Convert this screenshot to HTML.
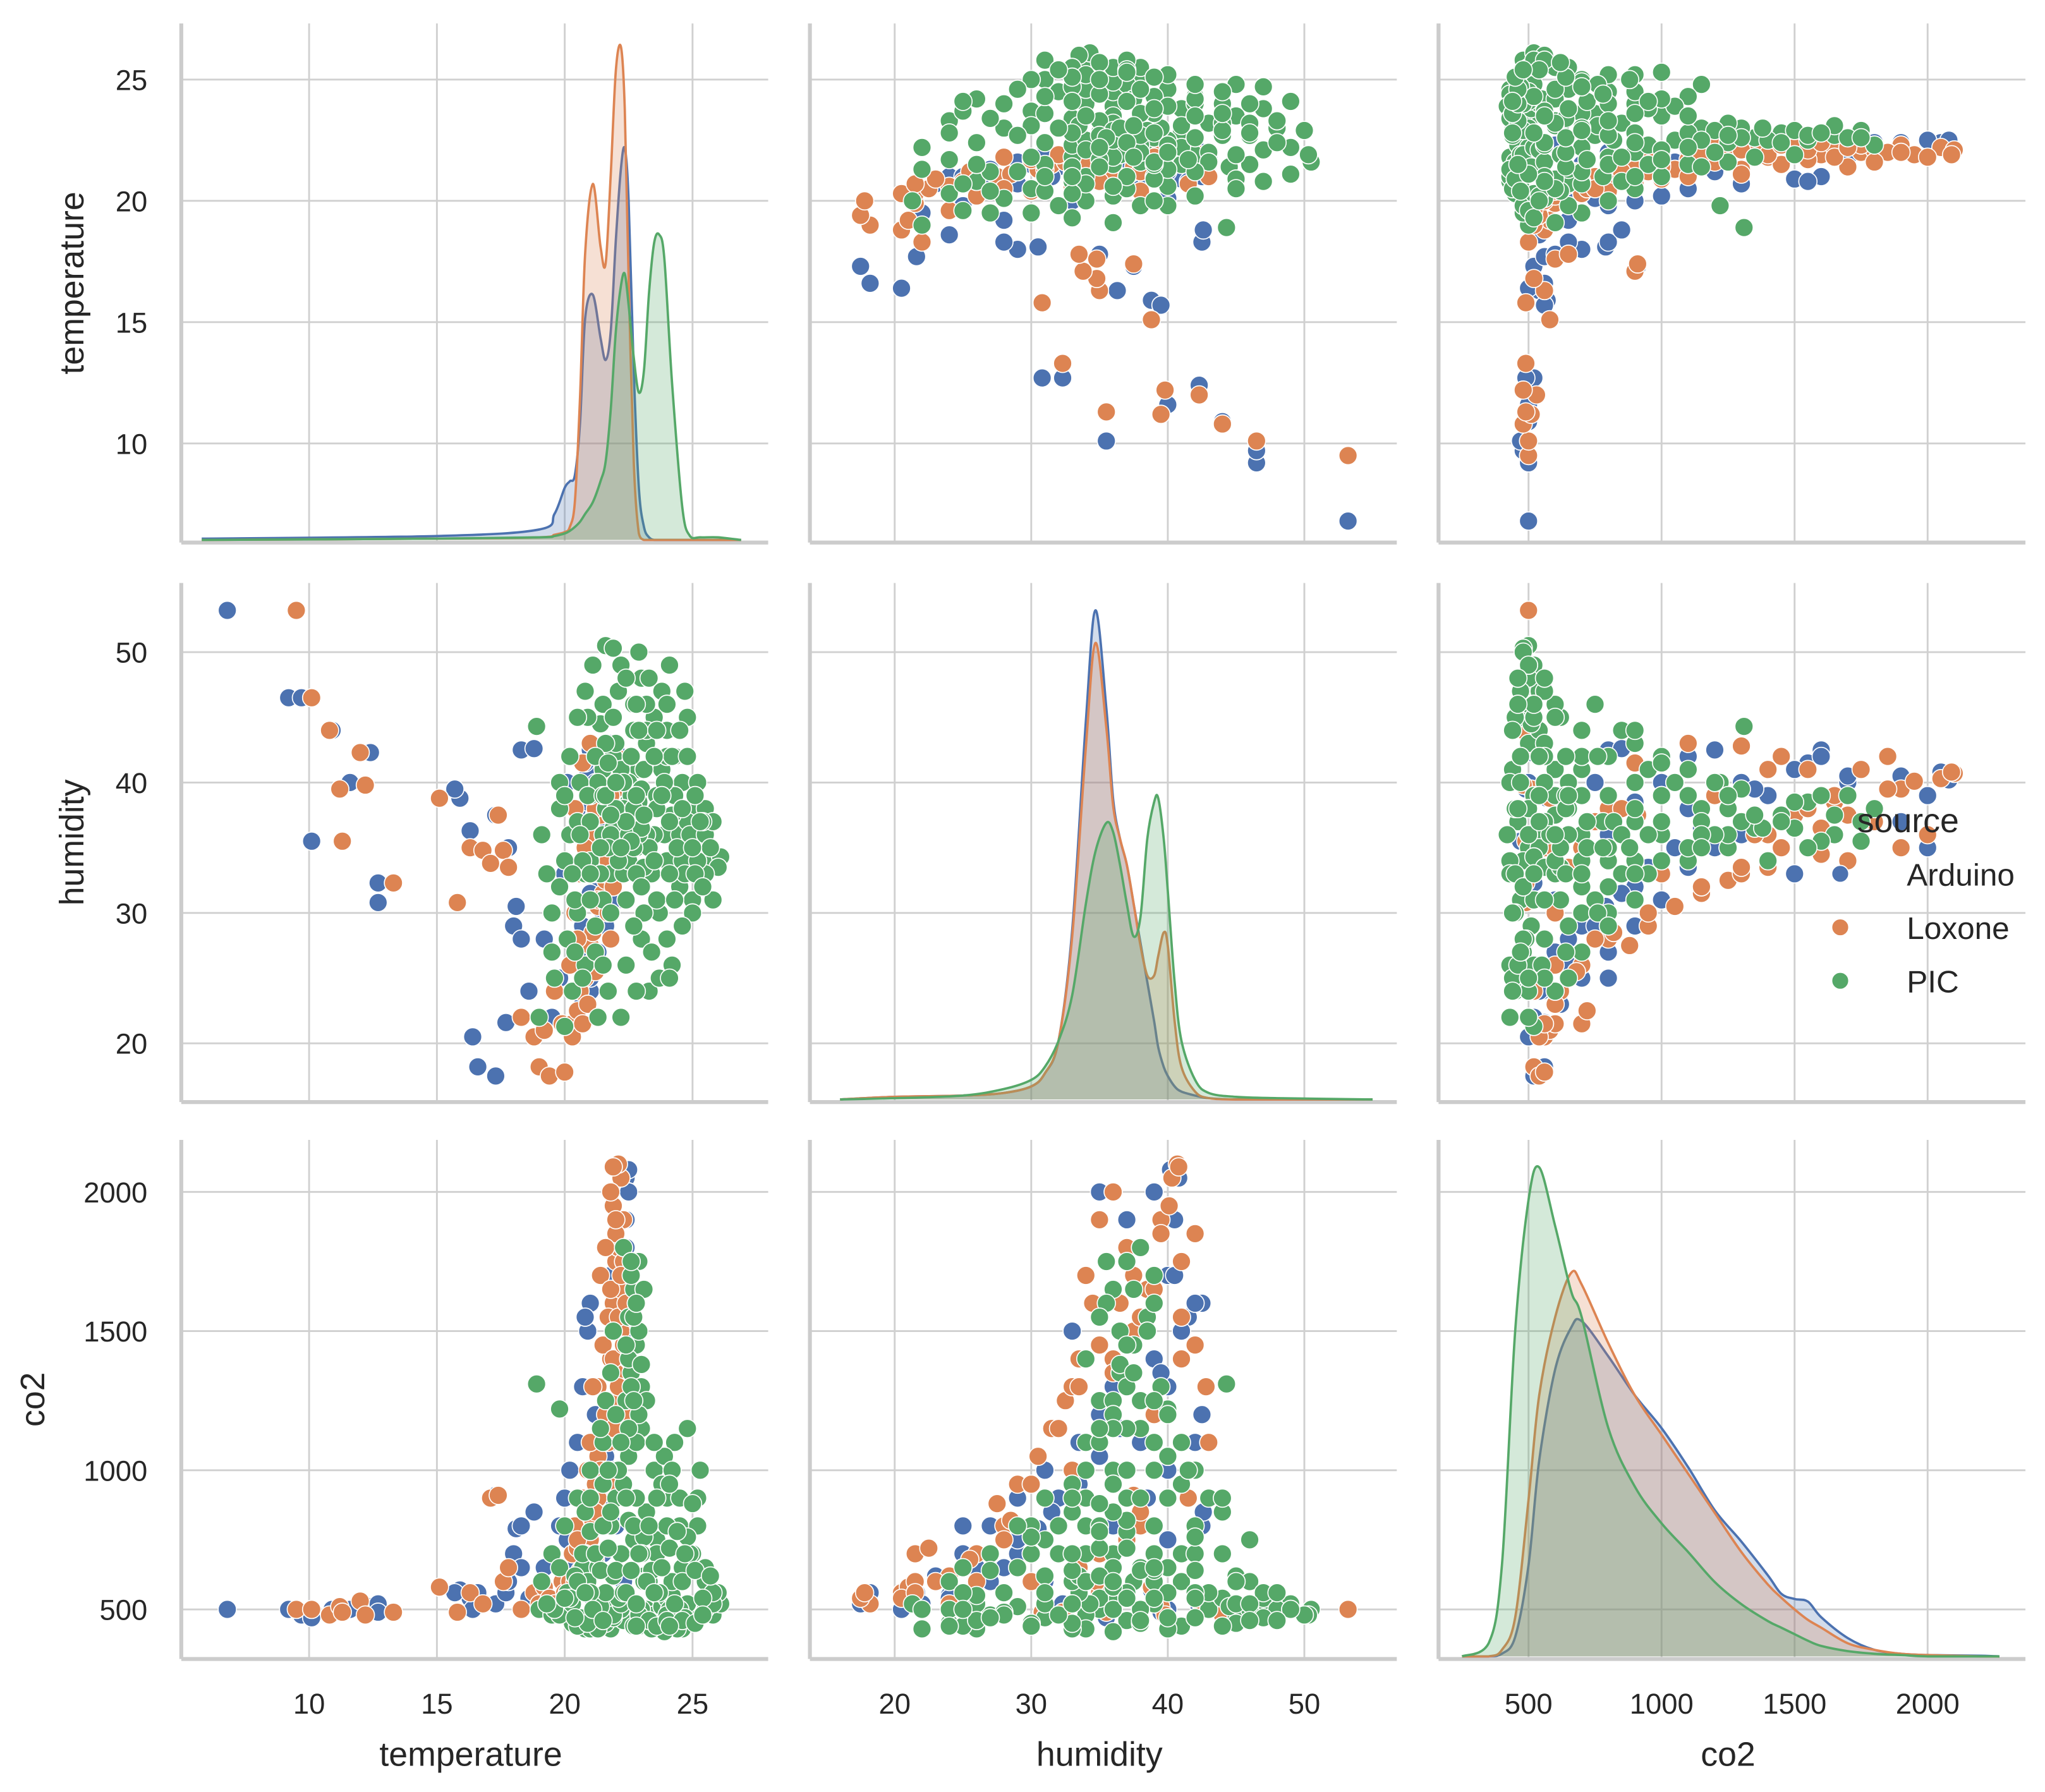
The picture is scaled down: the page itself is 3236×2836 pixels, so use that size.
<!DOCTYPE html>
<html><head><meta charset="utf-8">
<style>
html,body{margin:0;padding:0;background:#fff;}
svg{display:block;}
text{font-family:"Liberation Sans",sans-serif;fill:#262626;}
</style></head>
<body>
<svg id="chart" width="3236" height="2836" viewBox="0 0 1568 1374" preserveAspectRatio="none" xmlns="http://www.w3.org/2000/svg"></svg>
<script>
// ---- data ----
const variables = ["temperature","humidity","co2"];
const sources = ["Arduino","Loxone","PIC"];
const tempTicks = [10,15,20,25];
const humTicks = [20,30,40,50];
const co2Ticks = [500,1000,1500,2000];

// points: [temperature, humidity, co2]
const arduinoPoints = [
[6.8,53.2,500],[9.2,46.5,500],[9.7,46.5,480],[10.1,35.5,470],[10.9,44,500],[11.2,39.5,490],[11.6,40,500],[12.4,42.3,510],[12.7,32.3,520],[12.7,30.8,490],[15.9,38.8,570],[16.3,36.3,540],[16.4,20.5,500],[16.6,18.2,560],[17.3,17.5,520],[17.7,21.6,560],[17.3,37.5,910],[17.8,35,600],[18,29,700],[15.7,39.5,560],[18.1,30.5,790],[18.3,42.5,800],[18.8,42.6,850],
[19.2,28,650],[19.5,30,700],[19.8,25,800],[20,33,900],[20.2,36,1000],[20.5,38,1100],[20.7,40,1300],[20.9,41,1500],[21,42.5,1600],[21.2,35,1200],[21.4,32,900],[21.5,30,700],[21.7,37,1000],[21.9,39,1400],[22.1,40,1700],[22.3,40.5,1900],[22.4,40.8,2050],[22.5,39,2000],[22.2,36,1300],[22,34,800],[22.3,31,600],[20.5,27,600],[21,24,550],[19.5,22,520],[18.6,24,540],[18.3,28,650],[20.1,40,750],[21.8,43,1100],[22.4,38,1800],[22.2,33,1500],[20.8,41.5,1550],[22.5,40.2,2080],
[20.4,26,650],[20.7,29,750],[21.0,31.5,850],[21.3,33.5,950],[21.6,35,1050],[21.9,36.5,1150],[22.2,38,1250],[22.4,39.5,1350],[22.3,41,1500],[22.1,42,1600],[21.8,40.5,1700],[22.4,37,1900],[22.5,35,2000],[22.2,33.5,1100],[21.9,31,1000],[21.6,29,900],[21.3,27,800],[21.0,25,700],[20.7,23,620],[20.3,33,700],[20.6,36,800],[20.9,38.5,900],[21.2,40,1000],[21.5,42,1100],[22.0,42.5,1200]
];
const loxonePoints = [
[9.5,53.2,500],[10.1,46.5,500],[10.8,44,480],[11.2,39.5,510],[11.3,35.5,490],[12.0,42.3,530],[12.2,39.8,480],[13.3,32.3,490],[15.1,38.8,580],[15.8,30.8,490],[16.3,35,560],[16.8,34.8,520],[17.1,33.8,900],[17.4,37.5,910],[17.6,34.8,600],[18.3,22,500],[18.8,20.5,560],[19.2,21,580],[19,18.2,520],[19.4,17.5,540],[19.9,21.5,600],[17.8,33.5,650],
[20,17.8,560],[20.3,21.5,700],[20.5,22.5,720],[20.8,25,650],[21,27.5,880],[21.2,29,950],[21.3,30.5,1050],[21.5,31.5,1150],[21.6,32.5,1250],[21.8,33.5,1400],[21.9,34.5,1600],[22,35.5,1750],[22.1,37,1800],[22.2,38.5,1650],[22.3,39.5,1900],[22.2,40.3,2050],[22.1,40.7,2100],[21.9,40.1,1950],[21.7,41,1550],[21.5,42,1450],[21.3,42.8,1300],[21,43,1100],[20.7,41.5,900],[20.4,38,800],[20.9,36,1000],[21.1,33,1300],[21.4,37.5,1700],[22.4,36,1400],[22.5,39,1200],[20.2,26,600],[19.6,24,520],[21.8,28,800],[21.9,40.8,2090],[22,39.5,1850],
[20.6,24,620],[20.9,26,700],[21.1,28.5,820],[21.3,31,900],[21.5,33,1000],[21.7,34,1100],[21.9,35,1250],[22.0,36,1350],[22.2,37.5,1500],[22.1,38,1550],[21.8,39,1650],[22.3,41,1750],[22.0,42,1850],[21.9,41,1400],[21.6,40,1200],[21.4,39,1000],[21.2,38,850],[21.0,37,750],[20.8,35,700],[20.6,33,640],[20.4,30,600],[21.7,30,950],[21.9,32,1150],[22.1,33.5,1300],[22.3,35,1450],[22.4,36.5,1600],[22.2,34,1700],[22.0,35,1900],[21.8,36,2000],[21.6,38,1800],[20.3,20.5,540],[20.7,21.5,560],[20.9,23,600],[21.2,25.5,680],[20.5,28,750]
];
const picPoints = [
[19,22,500],[19.5,27,480],[20,21.3,520],[20.3,24,450],[20.8,26,430],[21.2,29,510],[21.5,31,470],[21.8,33,430],[22,35,500],[22.3,37,460],[22.6,39,520],[22.9,41,440],[23.2,43,500],[23.5,45,480],[23.8,47,510],[24,44,540],[24.3,42,470],[24.6,40,430],[24.9,38,500],[25.2,36,520],[25.5,35,540],[25.8,34,480],[26.1,34.3,520],[26,33.5,560],[25,31,470],[24.4,33,430],[23.7,30,450],[23,28,490],[22.4,26,520],[21.7,24,500],[22.2,22,500],[21,34,430],[21.6,38,450],[21.9,42,470],[21.5,46,500],[21.6,50.5,500],[21.9,50.3,480],[22.2,49,520],[22.1,47,540],[21.4,44.5,510],[20.6,40,470],[20.2,36,500],[19.8,32,480],[20.5,30,440],[25.5,38,500],[24.8,45,520],[23.9,36,420],[23.4,33,430],[22.7,44,440],[23,48,500],[24.1,49,500],[24.5,36,500],
[19.5,30,700],[20,34,800],[20.5,37,900],[21,39,1000],[21.5,41,1100],[22,43,900],[22.5,40,1050],[23,38,1150],[23.5,36,1000],[24,34,900],[24.5,32,800],[25,30,700],[25.5,33,600],[24.8,37,1150],[24.3,39,1100],[23.8,41,950],[23.2,44,850],[22.7,46,750],[22.3,33,950],[21.8,30,800],[21.2,27,700],[20.7,25,650],[22.8,35,1100],[23.6,31,750],[24.6,29,650],[21.5,36,950],[20.8,33,850],[19.8,38,650],[25.2,40,900],[24,42,800],
[22.4,35,1250],[22.6,36.5,1350],[22.8,37.5,1450],[22.5,38.5,1550],[22.7,36,1650],[22.9,37,1750],[22.6,39,1700],[22.5,34,1400],[22.8,35.5,1600],[23,39.5,1300],[22.3,38,1800],[21.9,36.5,1500],[23.2,36,1250],[18.9,44.3,1310],[19.8,40,1220],
[23.3,24,600],[24.2,26,550],[25.8,31,520],[22.9,50,480],[24.7,47,470],[23.6,39,700],[21.3,22,430],[20.9,45,450],[23.1,33.5,620],[24.2,37.5,600],
[20.1,28,560],[20.4,31,620],[20.7,34,700],[21.0,37,780],[21.3,40,650],[21.6,43,560],[21.9,45,620],[22.2,41,700],[22.5,37,820],[22.8,33,900],[23.1,30,760],[23.4,27,640],[23.7,25,560],[24.0,28,480],[24.3,31,520],[24.6,34,600],[24.9,36,700],[25.2,34,800],[25.5,36,650],[25.8,37,560],
[20.3,33,520],[20.6,36,580],[20.9,39,600],[21.2,42,700],[21.5,39,800],[21.8,36,850],[22.1,34,1000],[22.4,31,900],[22.7,29,800],[23.0,32,700],[23.3,35,800],[23.6,38,900],[23.9,40,1050],[24.2,42,1000],[24.5,44,900],[24.8,42,760],[25.1,39,640],[25.4,37,540],[25.7,35,620],[23.1,41,600],
[21.0,31,560],[21.4,33,640],[21.7,35,720],[22.0,38,640],[22.3,40,560],[22.6,42,640],[22.9,44,700],[23.2,46,600],[23.5,42,560],[23.8,39,650],[24.1,37,720],[24.4,35,780],[24.7,33,700],[25.0,35,880],[25.3,37,1000],[24.1,33,950],[23.5,34,1100],[22.9,36,1200],[22.6,37,1300],[22.9,38.5,1500],
[22.5,36,1150],[22.7,38,1250],[23.0,36.5,1380],[22.4,37,1450],[22.7,35,1550],[23.1,37.5,1650],[22.8,39,1600],[22.6,35.5,1750],[21.6,39,1250],[21.8,37.5,1350],[22.0,40,1200],[22.2,35,1100],[21.7,41.5,1000],[21.4,35,1150],[21.0,33,900],
[20.2,42,540],[20.5,45,600],[20.8,47,560],[21.1,49,500],[22.4,48,560],[22.8,46,520],[23.3,48,460],[23.6,44,440],[24.0,46,460],[24.6,38,460],[25.1,33,450],[25.4,32,480],[24.1,25,440],[22.8,24,440],[21.5,26,460],[20.4,27,470],[19.6,25,500],[19.3,33,520],[19.1,36,600],[20.0,39,540]
];

// KDE curves (density in relative units)
const tempGrid = [5.8,15,19,19.6,20.0,20.2,20.4,20.6,20.8,21.1,21.4,21.6,21.8,22.0,22.2,22.35,22.5,22.7,22.9,23.1,23.3,23.5,23.7,23.9,24.2,24.6,24.9,25.3,26,26.9];
const tempKdeArduino = [1,3,8,20,40,45,50,90,170,188,155,138,160,230,285,300,260,130,40,10,2,0,0,0,0,0,0,0,0,0];
const tempKdeLoxone = [0,1,2,4,6,10,30,110,220,273,225,212,280,360,378,330,200,60,5,0,0,0,0,0,0,0,0,0,0,0];
const tempKdePic = [0,1,2,3,5,7,10,14,20,29,45,60,100,160,195,204,180,140,113,130,190,228,234,215,120,25,3,2,2,0];

const humGrid = [16,20,25,28,30,31,32,33,34,34.7,35.5,36,36.5,37,37.5,38,38.5,39,39.3,39.7,40,40.5,41,42,43,45,48,55];
const humKdeArduino = [0,2,3,5,10,20,45,130,290,375,300,230,200,180,150,120,90,60,40,25,18,10,6,3,1,0,0,0];
const humKdeLoxone = [0,2,3,5,10,20,45,125,270,350,285,225,200,180,150,118,95,95,110,128,118,60,25,6,1,0,0,0];
const humKdePic = [0,1,3,8,15,25,45,80,150,190,212,205,180,150,125,140,200,228,231,200,160,90,45,15,5,2,1,0];

const co2Grid = [250,350,400,450,500,540,600,660,700,800,900,1000,1100,1200,1300,1400,1450,1500,1550,1600,1700,1800,1900,2000,2200,2270];
const co2KdeArduino = [0,0,2,15,70,150,220,252,257,230,200,175,145,112,88,62,48,44,42,30,14,5,2,1,0.5,0];
const co2KdeLoxone = [0,0,5,30,120,200,260,294,285,240,200,170,140,110,80,55,45,36,28,22,10,5,2,1,0,0];
const co2KdePic = [0,10,70,250,350,375,330,280,260,175,130,102,80,57,40,27,22,17,12,8,4,2,1,0,0,0];

// ---- layout ----
const colors = {Arduino:"#4c72b0", Loxone:"#dd8452", PIC:"#55a868"};
const colLeft = [139,621,1103], rowTop = [18,447,874], PW = 450, PH = 398;
const xScale = {
  temperature: v => 98 + (v-10)*19.6,
  humidity: v => 65 + (v-20)*10.47,
  co2: v => 69 + (v-500)*0.204
};
const yScale = {
  temperature: v => 322 - (v-10)*18.6,
  humidity: v => 353 - (v-20)*10,
  co2: v => 360 - (v-500)*0.2134
};
const ticks = {temperature: tempTicks, humidity: humTicks, co2: co2Ticks};
const pointSets = {Arduino: arduinoPoints, Loxone: loxonePoints, PIC: picPoints};
const kdeGrid = {temperature: tempGrid, humidity: humGrid, co2: co2Grid};
const kdeVals = {
  temperature: {Arduino: tempKdeArduino, Loxone: tempKdeLoxone, PIC: tempKdePic},
  humidity: {Arduino: humKdeArduino, Loxone: humKdeLoxone, PIC: humKdePic},
  co2: {Arduino: co2KdeArduino, Loxone: co2KdeLoxone, PIC: co2KdePic}
};

const NS = "http://www.w3.org/2000/svg";
const svg = document.getElementById("chart");
function mk(tag, attrs, parent){
  const e = document.createElementNS(NS, tag);
  for (const k in attrs) e.setAttribute(k, attrs[k]);
  (parent||svg).appendChild(e);
  return e;
}
const defs = mk("defs", {});
for (let r=0;r<3;r++) for (let c=0;c<3;c++){
  const cp = mk("clipPath", {id:"clip"+r+c}, defs);
  mk("rect", {x:colLeft[c], y:rowTop[r]-6, width:PW, height:PH+6}, cp);
}

let rowBase = 0;
function smoothPath(pts){
  let d = "M"+pts[0][0]+","+pts[0][1];
  for (let i=0;i<pts.length-1;i++){
    const p0 = pts[Math.max(0,i-1)], p1 = pts[i], p2 = pts[i+1], p3 = pts[Math.min(pts.length-1,i+2)];
    const c1x = p1[0]+(p2[0]-p0[0])/6, c1y = p1[1]+(p2[1]-p0[1])/6;
    const c2x = p2[0]-(p3[0]-p1[0])/6, c2y = p2[1]-(p3[1]-p1[1])/6;
    d += " C"+c1x+","+Math.min(c1y, rowBase)+" "+c2x+","+Math.min(c2y, rowBase)+" "+p2[0]+","+p2[1];
  }
  return d;
}

for (let r=0;r<3;r++){
  for (let c=0;c<3;c++){
    const xv = variables[c], yv = variables[r];
    const L = colLeft[c], T = rowTop[r];
    const g = mk("g", {});
    
    
    ticks[xv].forEach(t=>{
      const x = L + xScale[xv](t);
      mk("line", {x1:x, x2:x, y1:T, y2:T+PH, stroke:"#d0d0d0", "stroke-width":1.4}, g);
    });
    ticks[yv].forEach(t=>{
      const y = T + yScale[yv](t);
      mk("line", {x1:L, x2:L+PW, y1:y, y2:y, stroke:"#d0d0d0", "stroke-width":1.4}, g);
    });
    mk("line", {x1:L, x2:L, y1:T, y2:T+PH, stroke:"#cccccc", "stroke-width":3}, g);
    mk("line", {x1:L, x2:L+PW, y1:T+PH, y2:T+PH, stroke:"#cccccc", "stroke-width":3}, g);
    const plot = mk("g", {"clip-path":"url(#clip"+r+c+")"}, g);
    if (r===c){
      rowBase = T+PH-2;
      sources.forEach(s=>{
        const grid = kdeGrid[xv], vals = kdeVals[xv][s];
        const pts = grid.map((gv,i)=>[L + xScale[xv](gv), rowBase - vals[i]]);
        const line = smoothPath(pts);
        const area = line + " L"+pts[pts.length-1][0]+","+rowBase+" L"+pts[0][0]+","+rowBase+" Z";
        const a = mk("path", {d:area, fill:colors[s], "fill-opacity":0.25, stroke:"none"}, plot);
        
        
        const l = mk("path", {d:line, fill:"none", stroke:colors[s], "stroke-width":1.8}, plot);
        
        
      });
    } else {
      sources.forEach(s=>{
        const sg = mk("g", {fill:colors[s], stroke:"#ffffff", "stroke-width":0.8}, plot);
        
        
        pointSets[s].forEach(p=>{
          const o = {temperature:p[0], humidity:p[1], co2:p[2]};
          const cEl = mk("circle", {cx:L + xScale[xv](o[xv]), cy:T + yScale[yv](o[yv]), r:7}, sg);
          
          
        });
      });
    }
    if (c===0){
      ticks[yv].forEach(t=>{
        const te = mk("text", {x:L-26, y:T + yScale[yv](t) + 8, "text-anchor":"end", "font-size":22}, svg);
        te.textContent = t;
        
        
      });
    }
    if (r===2){
      ticks[xv].forEach(t=>{
        const te = mk("text", {x:L + xScale[xv](t), y:T+PH+42, "text-anchor":"middle", "font-size":22}, svg);
        te.textContent = t;
        
        
      });
    }
  }
}
const yTitleX = [64,64,34];
variables.forEach((v,i)=>{
  const cy = rowTop[i] + PH/2;
  const t = mk("text", {x:yTitleX[i], y:cy, transform:"rotate(-90 "+yTitleX[i]+" "+cy+")", "text-anchor":"middle", "font-size":26}, svg);
  t.textContent = v;
  
  
  const cx = colLeft[i] + PW/2 - 3;
  const t2 = mk("text", {x:cx, y:1354, "text-anchor":"middle", "font-size":26}, svg);
  t2.textContent = v;
  
  
});
const lg = mk("g", {});


const lt = mk("text", {x:1424, y:638, "font-size":26}, lg);
lt.textContent = "source";


sources.forEach((s,i)=>{
  const y = 670 + i*41;
  const m = mk("circle", {cx:1411, cy:y, r:6.5, fill:colors[s], stroke:"#fff", "stroke-width":0.8}, lg);
  
  
  const t = mk("text", {x:1462, y:y+9, "font-size":24}, lg);
  t.textContent = s;
  
  
});
</script>
</body></html>
